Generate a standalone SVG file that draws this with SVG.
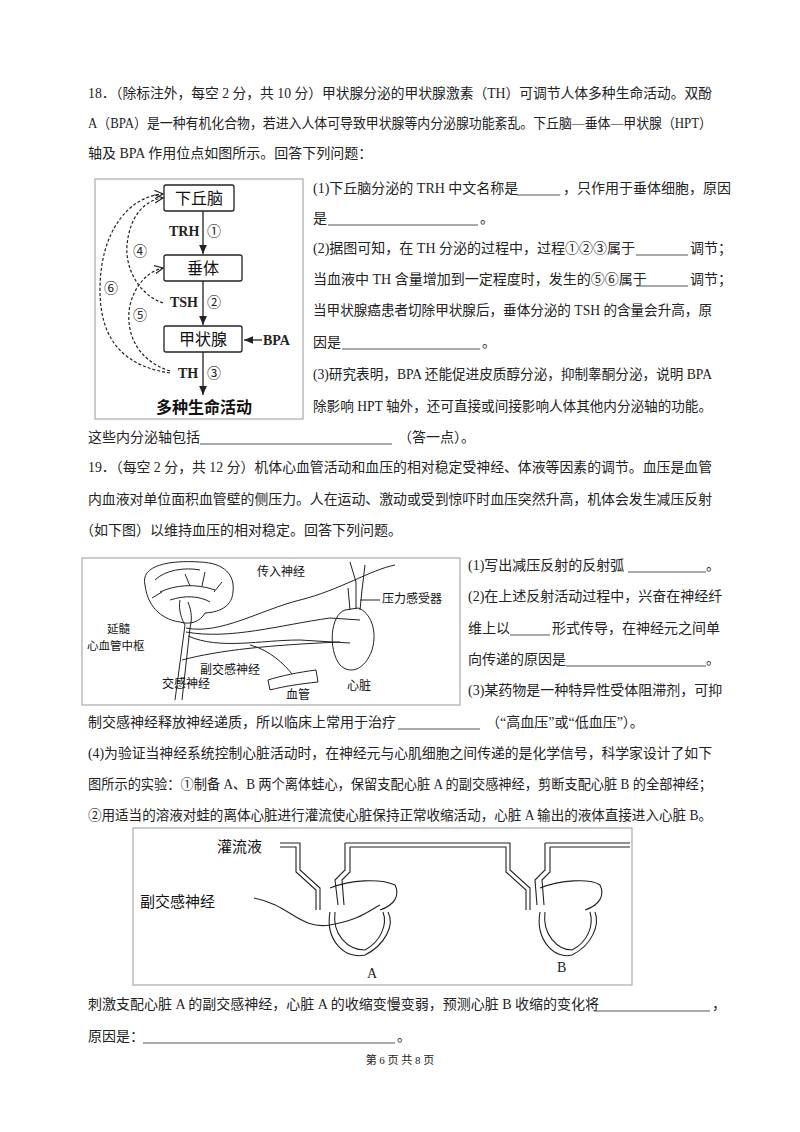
<svg xmlns="http://www.w3.org/2000/svg" width="800" height="1132" viewBox="0 0 800 1132">
<style>
text{font-family:"Liberation Serif","Noto Sans CJK SC",serif;font-size:14px;fill:#222}
.f{font-family:"Noto Sans CJK SC",sans-serif;fill:#111}
.u{stroke:#555;stroke-width:1;fill:none}
.ln{stroke:#222;stroke-width:1.3;fill:none}
.d{stroke:#222;stroke-width:1.2;fill:none;stroke-dasharray:3 2}
.bx{fill:#fff;stroke:#222;stroke-width:1.3}
.fr{fill:#fff;stroke:#aaa;stroke-width:1.2}
</style>
<defs>
<marker id="a" markerWidth="8" markerHeight="8" refX="7" refY="4" orient="auto"><path d="M0,1 L7,4 L0,7 Z" fill="#222"/></marker>
<marker id="o" markerWidth="8" markerHeight="8" refX="7" refY="4" orient="auto"><path d="M0,0.5 L7,4 L0,7.5" fill="none" stroke="#222"/></marker>
</defs>
<rect width="800" height="1132" fill="#fff"/>

<g id="text">
<text x="88" y="98" textLength="624" lengthAdjust="spacingAndGlyphs">18．（除标注外，每空 2 分，共 10 分）甲状腺分泌的甲状腺激素（TH）可调节人体多种生命活动。双酚</text>
<text x="88" y="128" textLength="624" lengthAdjust="spacingAndGlyphs">A（BPA）是一种有机化合物，若进入人体可导致甲状腺等内分泌腺功能紊乱。下丘脑—垂体—甲状腺（HPT）</text>
<text x="88" y="158">轴及 BPA 作用位点如图所示。回答下列问题：</text>
<text x="313" y="193">(1)下丘脑分泌的 TRH 中文名称是</text><line class="u" x1="517" y1="195" x2="560" y2="195"/><text x="563" y="193">，只作用于垂体细胞，原因</text>
<text x="313" y="223">是</text><line class="u" x1="328" y1="225" x2="478" y2="225"/><text x="480" y="223">。</text>
<text x="313" y="253">(2)据图可知，在 TH 分泌的过程中，过程①②③属于</text><line class="u" x1="636" y1="255" x2="688" y2="255"/><text x="690" y="253">调节；</text>
<text x="313" y="284">当血液中 TH 含量增加到一定程度时，发生的⑤⑥属于</text><line class="u" x1="636" y1="286" x2="688" y2="286"/><text x="690" y="284">调节；</text>
<text x="313" y="315" textLength="399" lengthAdjust="spacingAndGlyphs">当甲状腺癌患者切除甲状腺后，垂体分泌的 TSH 的含量会升高，原</text>
<text x="313" y="347">因是</text><line class="u" x1="342" y1="349" x2="480" y2="349"/><text x="482" y="347">。</text>
<text x="313" y="379" textLength="399" lengthAdjust="spacingAndGlyphs">(3)研究表明，BPA 还能促进皮质醇分泌，抑制睾酮分泌，说明 BPA</text>
<text x="313" y="411" textLength="399" lengthAdjust="spacingAndGlyphs">除影响 HPT 轴外，还可直接或间接影响人体其他内分泌轴的功能。</text>
<text x="88" y="442">这些内分泌轴包括</text><line class="u" x1="200" y1="444" x2="392" y2="444"/><text x="398" y="442">（答一点）。</text>
<text x="88" y="472" textLength="624" lengthAdjust="spacingAndGlyphs">19．（每空 2 分，共 12 分）机体心血管活动和血压的相对稳定受神经、体液等因素的调节。血压是血管</text>
<text x="88" y="504" textLength="624" lengthAdjust="spacingAndGlyphs">内血液对单位面积血管壁的侧压力。人在运动、激动或受到惊吓时血压突然升高，机体会发生减压反射</text>
<text x="80" y="535">（如下图）以维持血压的相对稳定。回答下列问题。</text>
<text x="468" y="570">(1)写出减压反射的反射弧</text><line class="u" x1="628" y1="572" x2="706" y2="572"/><text x="706" y="570">。</text>
<text x="468" y="601">(2)在上述反射活动过程中，兴奋在神经纤</text>
<text x="468" y="633">维上以</text><line class="u" x1="510" y1="635" x2="550" y2="635"/><text x="552" y="633">形式传导，在神经元之间单</text>
<text x="468" y="664">向传递的原因是</text><line class="u" x1="566" y1="666" x2="706" y2="666"/><text x="706" y="664">。</text>
<text x="468" y="695">(3)某药物是一种特异性受体阻滞剂，可抑</text>
<text x="88" y="727">制交感神经释放神经递质，所以临床上常用于治疗</text><line class="u" x1="398" y1="729" x2="480" y2="729"/><text x="486" y="727">（“高血压”或“低血压”）。</text>
<text x="88" y="758" textLength="624" lengthAdjust="spacingAndGlyphs">(4)为验证当神经系统控制心脏活动时，在神经元与心肌细胞之间传递的是化学信号，科学家设计了如下</text>
<text x="88" y="789" textLength="624" lengthAdjust="spacingAndGlyphs">图所示的实验：①制备 A、B 两个离体蛙心，保留支配心脏 A 的副交感神经，剪断支配心脏 B 的全部神经；</text>
<text x="88" y="820" textLength="624" lengthAdjust="spacingAndGlyphs">②用适当的溶液对蛙的离体心脏进行灌流使心脏保持正常收缩活动，心脏 A 输出的液体直接进入心脏 B。</text>
<text x="88" y="1009">刺激支配心脏 A 的副交感神经，心脏 A 的收缩变慢变弱，预测心脏 B 收缩的变化将</text><line class="u" x1="594" y1="1011" x2="710" y2="1011"/><text x="712" y="1009">，</text>
<text x="88" y="1041">原因是：</text><line class="u" x1="143" y1="1043" x2="395" y2="1043"/><text x="397" y="1041">。</text>
<text x="400" y="1064" text-anchor="middle" style="font-size:11px">第 6 页 共 8 页</text>
</g>

<g id="fig1">
<rect class="fr" x="95" y="179" width="208" height="240"/>
<g id="n1"><rect class="bx" x="164" y="185" width="70" height="26" rx="2"/><text class="f" x="199" y="204" text-anchor="middle" style="font-size:16px">下丘脑</text></g>
<g id="n2"><rect class="bx" x="164" y="255" width="78" height="26" rx="2"/><text class="f" x="203" y="274" text-anchor="middle" style="font-size:16px">垂体</text></g>
<g id="n3"><rect class="bx" x="164" y="326" width="78" height="26" rx="2"/><text class="f" x="203" y="345" text-anchor="middle" style="font-size:16px">甲状腺</text></g>
<text x="169" y="236" style="font-size:14px;font-weight:bold">TRH</text><text x="207" y="236" style="font-size:14px">①</text>
<text x="170" y="307" style="font-size:14px;font-weight:bold">TSH</text><text x="207" y="307" style="font-size:14px">②</text>
<text x="178" y="378" style="font-size:14px;font-weight:bold">TH</text><text x="207" y="378" style="font-size:14px">③</text>
<text x="263" y="345" style="font-size:14px;font-weight:bold">BPA</text>
<text class="f" x="204" y="413" text-anchor="middle" style="font-size:16px;font-weight:bold">多种生命活动</text>
<text x="133" y="256" style="font-size:14px">④</text>
<text x="133" y="320" style="font-size:14px">⑤</text>
<text x="104" y="293" style="font-size:14px">⑥</text>
<g id="connectors1">
<line class="ln" x1="203" y1="211" x2="203" y2="254" marker-end="url(#a)"/>
<line class="ln" x1="203" y1="281" x2="203" y2="325" marker-end="url(#a)"/>
<line class="ln" x1="203" y1="352" x2="203" y2="395" marker-end="url(#a)"/>
<line class="ln" x1="262" y1="340" x2="244" y2="340" marker-end="url(#a)"/>
<path class="d" d="M163,303 C140,295 125,270 127,245 C130,215 145,200 163,198" marker-end="url(#o)"/>
<path class="d" d="M170,373 C115,365 100,330 100,290 C100,230 130,196 163,194" marker-end="url(#o)"/>
<path class="d" d="M170,371 C135,360 125,330 130,305 C135,285 148,271 163,268" marker-end="url(#o)"/>
</g>
</g>

<g id="fig2">
<rect class="fr" x="82" y="558" width="378" height="147"/>
<g class="ln" style="stroke-width:1">
<path d="M145,585 C140,565 170,560 200,562 C225,563 235,575 233,592 C232,605 222,612 205,613 C200,622 190,625 180,622 C165,620 148,610 145,585 Z"/>
<path d="M155,580 C165,570 185,567 200,570 M160,592 C175,585 195,583 215,590 M170,600 C185,595 200,596 210,602 M185,574 l5,12 M205,572 l-3,14 M222,582 l-8,10 M152,598 l10,-6"/>
<path d="M180,600 C178,610 182,620 185,625 L175,700 M188,602 C192,612 192,620 190,628 L182,700"/>
<path d="M186,628 C220,635 260,610 300,600 C340,590 370,570 395,565"/>
<path d="M186,632 C230,640 280,625 330,618 L360,620"/>
<path d="M188,636 C220,650 260,640 300,640 L350,643"/>
<path d="M182,660 C220,650 270,645 340,642"/>
<path d="M250,645 C270,650 285,665 292,674"/>
<path d="M345,610 C330,615 328,650 340,665 C350,675 365,670 372,650 C378,630 370,612 358,608 Z"/>
<path d="M350,610 L348,588 M356,609 L356,582 L350,562 M360,610 L362,590 L365,565"/>
<path d="M268,680 C280,676 300,672 316,670 L318,682 C300,684 285,686 270,690 Z"/>
<path d="M360,600 L380,600"/>
</g>
<text class="f" x="257" y="576" style="font-size:12px">传入神经</text>
<text class="f" x="382" y="603" style="font-size:12px">压力感受器</text>
<text class="f" x="107" y="633" style="font-size:11.5px">延髓</text>
<text class="f" x="87" y="650" style="font-size:11.5px">心血管中枢</text>
<text class="f" x="200" y="674" style="font-size:12px">副交感神经</text>
<text class="f" x="162" y="688" style="font-size:12px">交感神经</text>
<text class="f" x="286" y="699" style="font-size:12px">血管</text>
<text class="f" x="347" y="690" style="font-size:12px">心脏</text>
</g>

<g id="fig3">
<rect class="fr" x="133" y="828" width="499" height="157"/>
<text class="f" x="217" y="852" style="font-size:15px">灌流液</text>
<text class="f" x="140" y="907" style="font-size:15px">副交感神经</text>
<text x="367" y="978" style="font-size:14px">A</text>
<text x="557" y="972" style="font-size:14px">B</text>
<g class="ln" style="stroke-width:1.1">
<path d="M280,843 L300,843 L300,870 L320,888 L320,910 M280,847 L296,847 L296,872 L316,890 L316,910"/>
<path d="M345,843 L345,870 L335,880 L338,905 M350,847 L350,872 L342,880 L344,905"/>
<path d="M345,843 L510,843 L510,870 L530,888 L530,910 M350,847 L506,847 L506,872 L526,890 L526,910"/>
<path d="M545,843 L630,843 M550,847 L630,847 M545,843 L545,870 L535,880 L537,905 M550,847 L550,872 L542,880 L544,905"/>
<path d="M330,888 C350,880 380,878 395,885 C400,895 395,905 380,910 M330,912 C325,940 345,960 365,955 C385,945 395,925 388,912 M335,912 C332,935 348,950 365,950 C380,942 388,925 383,912"/>
<path d="M540,888 C560,880 590,878 600,885 C605,895 600,905 585,910 M540,912 C535,940 555,960 572,955 C592,945 600,925 595,912 M545,912 C542,935 558,950 572,950 C588,942 594,925 590,912"/>
<path d="M254,898 C290,905 300,930 330,925 C360,920 370,910 380,905"/>
</g>
</g>
</svg>
